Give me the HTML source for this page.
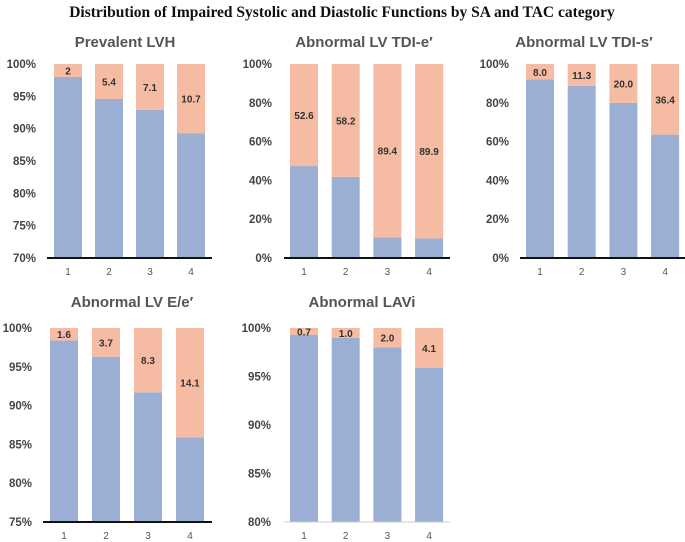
<!DOCTYPE html>
<html><head><meta charset="utf-8"><style>
body{margin:0;background:#fff;width:685px;height:542px;overflow:hidden;font-family:"Liberation Sans",sans-serif}
svg{display:block}
</style></head><body>
<svg id="chart" width="685" height="542">
<text x="342" y="17" text-anchor="middle" font-family="Liberation Serif" font-weight="bold" font-size="15.5" fill="#111">Distribution of Impaired Systolic and Diastolic Functions by SA and TAC category</text>
</svg>
<script>
const categories = ["1","2","3","4"];
const lvhValues = [2, 5.4, 7.1, 10.7];
const lvhLabels = ["2","5.4","7.1","10.7"];
const tdieValues = [52.6, 58.2, 89.4, 89.9];
const tdieLabels = ["52.6","58.2","89.4","89.9"];
const tdisValues = [8.0, 11.3, 20.0, 36.4];
const tdisLabels = ["8.0","11.3","20.0","36.4"];
const eeValues = [1.6, 3.7, 8.3, 14.1];
const eeLabels = ["1.6","3.7","8.3","14.1"];
const laviValues = [0.7, 1.0, 2.0, 4.1];
const laviLabels = ["0.7","1.0","2.0","4.1"];
const lvhTicks = [70,75,80,85,90,95,100];
const tdiTicks = [0,20,40,60,80,100];
const eeTicks = [75,80,85,90,95,100];
const laviTicks = [80,85,90,95,100];

const svg = document.getElementById('chart');
const NS = 'http://www.w3.org/2000/svg';
function mk(tag, attrs, parent){const e=document.createElementNS(NS,tag);for(const k in attrs)e.setAttribute(k,attrs[k]);(parent||svg).appendChild(e);return e;}

function panel(name, title, cfg, values, labels, ticks){
  const g = mk('g',{});
  
  
  const min = ticks[0], max = ticks[ticks.length-1];
  const y = v => cfg.yBot - (v-min)/(max-min)*(cfg.yBot-cfg.yTop);
  const t = mk('text',{x:cfg.tx,y:cfg.ty,'text-anchor':'middle','font-size':15,'font-weight':'bold',fill:'#555'},g);
  t.textContent = title;
  
  
  ticks.forEach(tv=>{
    const tl = mk('text',{x:cfg.lx,y:y(tv)+4,'text-anchor':'end','font-size':11.5,'font-weight':'bold',fill:'#444'},g);
    tl.textContent = tv+'%';
    
    
  });
  categories.forEach((c,i)=>{
    const x0 = cfg.bx0 + i*cfg.step;
    const top = 100 - values[i];
    const b = mk('rect',{x:x0,y:y(top),width:cfg.bw,height:cfg.yBot-y(top),fill:'#9BAFD4'},g);
    
    
    const r = mk('rect',{x:x0,y:cfg.yTop,width:cfg.bw,height:y(top)-cfg.yTop,fill:'#F5BBA3'},g);
    
    
    const vl = mk('text',{x:x0+cfg.bw/2,y:(cfg.yTop+y(top))/2+4,'text-anchor':'middle','font-size':10,'font-weight':'bold',fill:'#333'},g);
    vl.textContent = labels[i];
    
    
    const xl = mk('text',{x:x0+cfg.bw/2,y:cfg.yBot+17,'text-anchor':'middle','font-size':10,fill:'#555'},g);
    xl.textContent = c;
    
    
  });
  const ax = mk('line',{x1:cfg.ax0,x2:cfg.ax1,y1:cfg.yBot,y2:cfg.yBot,stroke:cfg.axc||'#111','stroke-width':cfg.axw||2},g);
  
  
}
panel('panel-prevalent-lvh','Prevalent LVH',{tx:125,ty:47,lx:36,yTop:64,yBot:258,bx0:54,step:41,bw:28,ax0:47,ax1:212},lvhValues,lvhLabels,lvhTicks);
panel('panel-tdi-e','Abnormal LV TDI-e′',{tx:364,ty:47,lx:272,yTop:64,yBot:258,bx0:290,step:41.7,bw:28,ax0:284,ax1:450},tdieValues,tdieLabels,tdiTicks);
panel('panel-tdi-s','Abnormal LV TDI-s′',{tx:584,ty:47,lx:509,yTop:64,yBot:258,bx0:526,step:41.7,bw:28,ax0:520,ax1:685},tdisValues,tdisLabels,tdiTicks);
panel('panel-ee','Abnormal LV E/e′',{tx:132,ty:307,lx:32,yTop:328,yBot:522,bx0:50,step:42,bw:28,ax0:43,ax1:212},eeValues,eeLabels,eeTicks);
panel('panel-lavi','Abnormal LAVi',{tx:362,ty:307,lx:271,yTop:328,yBot:522,bx0:290,step:41.7,bw:28,ax0:284,ax1:450,axc:'#ccc',axw:1},laviValues,laviLabels,laviTicks);
</script>
</body></html>
